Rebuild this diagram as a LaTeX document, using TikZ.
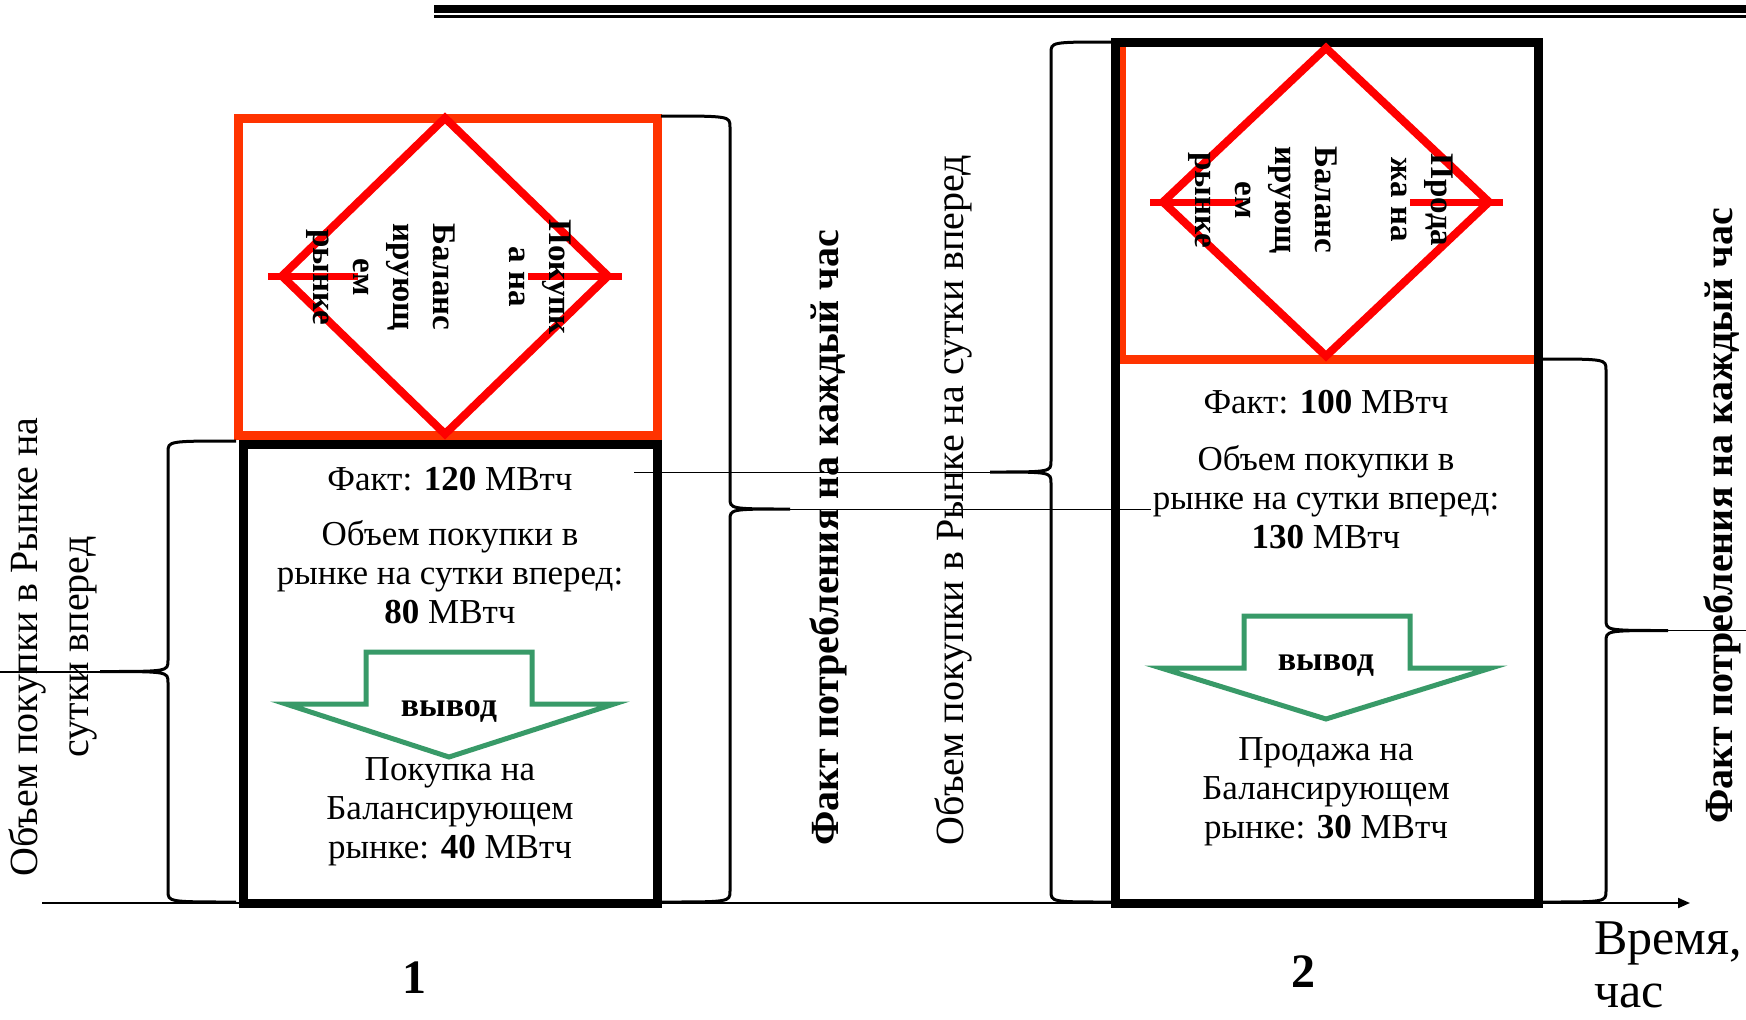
\documentclass[tikz,border=0pt]{standalone}
\usepackage{fontspec}
\setmainfont{Liberation Serif}
\usetikzlibrary{arrows.meta}
\definecolor{boxred}{RGB}{255,51,0}
\definecolor{dred}{RGB}{255,0,0}
\definecolor{agreen}{RGB}{56,154,104}
\tikzset{
  redbox/.style={draw=boxred, line width=4.5pt},
  blkbox/.style={draw=black, line width=4.5pt},
  diam/.style={draw=dred, line width=4pt, line join=miter},
  harrow/.style={draw=dred, line width=3.5pt},
  garrow/.style={draw=agreen, line width=2.5pt, line join=miter},
  bracepath/.style={draw=black, line width=1.5pt},
  thinline/.style={draw=black, line width=0.5pt},
  boxtext/.style={font=\fontsize{17.5}{19.5}\selectfont, align=center, inner sep=0pt},
  vyvod/.style={font=\bfseries\fontsize{17}{19}\selectfont, inner sep=0pt},
  dtext/.style={font=\bfseries\fontsize{16.5}{20}\selectfont, align=center, rotate=-90, inner sep=0pt},
  sidelabel/.style={font=\fontsize{20}{25}\selectfont, align=center, rotate=90, inner sep=0pt},
  sideboldlabel/.style={font=\bfseries\fontsize{20}{25}\selectfont, rotate=90, inner sep=0pt},
  numlabel/.style={font=\bfseries\fontsize{24}{28}\selectfont, inner sep=0pt},
  timelabel/.style={font=\fontsize{25}{26.5}\selectfont, align=left, inner sep=0pt, anchor=west}
}
% brace: x0 = end x, xb = body x, xt = tip x, ytop, ybot
\newcommand{\drawbrace}[5]{%
  \pgfmathsetmacro{\bym}{(#4+#5)/2}%
  \draw[bracepath] (#1,#4) .. controls (#2,#4) and (#2,#4) .. (#2,#4+11)
     -- (#2,\bym-11) .. controls (#2,\bym) and (#2,\bym) .. (#3,\bym)
     .. controls (#2,\bym) and (#2,\bym) .. (#2,\bym+11)
     -- (#2,#5-11) .. controls (#2,#5) and (#2,#5) .. (#1,#5);
}
\begin{document}
\begin{tikzpicture}[x=0.5pt,y=-0.5pt]
\useasboundingbox (0,0) rectangle (1746,1019);

% top double rule
\draw[line width=4pt] (434,9) -- (1746,9);
\draw[line width=1.5pt] (434,16.5) -- (1746,16.5);

% time axis
\coordinate (axisL) at (42,903);
\coordinate (axisR) at (1690,903);
\draw[line width=1pt, -{Triangle[length=6pt,width=5pt]}] (axisL) -- (axisR);

% ---------- hour 1 ----------
\draw[redbox] (238,118) rectangle (657,435);
\draw[blkbox] (243,444) rectangle (657,903);
\draw[diam] (445,118) -- (608,276) -- (445,434) -- (282,276) -- cycle;
\draw[harrow] (358,276) -- (268,276);
\draw[harrow] (528,276) -- (622,276);
\draw[garrow] (366,652) -- (532,652) -- (532,704) -- (614,704) -- (449,757) -- (286,704) -- (366,704) -- cycle;

% ---------- hour 2 ----------
\draw[redbox] (1121,42) rectangle (1538,359);
\draw[blkbox] (1115,42) rectangle (1538,903);
\draw[diam] (1326,48) -- (1489,202) -- (1326,356) -- (1163,202) -- cycle;
\draw[harrow] (1243,202) -- (1150,202);
\draw[harrow] (1410,202) -- (1503,202);
\draw[garrow] (1244,616) -- (1410,616) -- (1410,668) -- (1491,668) -- (1326,719) -- (1161,668) -- (1244,668) -- cycle;

% ---------- braces ----------
\drawbrace{236}{168}{100}{441}{902}
\drawbrace{661}{730}{790}{116}{902}
\drawbrace{1111}{1051}{990}{42}{902}
\drawbrace{1542}{1606}{1668}{359}{902}

\coordinate (tipA) at (100,671.5);
\coordinate (endA) at (0,671.5);
\coordinate (tipB) at (790,509);
\coordinate (endB) at (1151,509);
\coordinate (tipC) at (990,472);
\coordinate (endC) at (634,472);
\coordinate (tipD) at (1668,630.5);
\coordinate (endD) at (1746,630.5);
\draw[line width=1pt] (tipA) -- (endA);
\draw[thinline] (tipB) -- (endB);
\draw[thinline] (tipC) -- (endC);
\draw[thinline] (tipD) -- (endD);

% ---------- texts hour 1 ----------
\node[dtext] (d1) at (439,277) {Покупк\\а на\\[18pt]Баланс\\ирующ\\ем\\рынке};
\node[boxtext] (fact1) at (450,479) {Факт: \textbf{120} МВтч};
\node[boxtext] (dam1) at (450,572) {Объем покупки в\\рынке на сутки вперед:\\\textbf{80} МВтч};
\node[vyvod] (v1) at (449,711) {вывод};
\node[boxtext] (res1) at (450,812) {Покупка на\\Балансирующем\\рынке: \textbf{40} МВтч};

% ---------- texts hour 2 ----------
\node[dtext] (d2) at (1321,200) {Прода\\жа на\\[18pt]Баланс\\ирующ\\ем\\рынке};
\node[boxtext] (fact2) at (1326,402) {Факт: \textbf{100} МВтч};
\node[boxtext] (dam2) at (1326,497) {Объем покупки в\\рынке на сутки вперед:\\\textbf{130} МВтч};
\node[vyvod] (v2) at (1326,665) {вывод};
\node[boxtext] (res2) at (1326,792) {Продажа на\\Балансирующем\\рынке: \textbf{30} МВтч};

% ---------- side labels ----------
\node[sidelabel] (lblA) at (53,647) {Объем покупки в Рынке на\\сутки вперед};
\node[sideboldlabel] (lblB) at (828,538) {Факт потребления на каждый час};
\node[sidelabel] (lblC) at (953,500) {Объем покупки в Рынке на сутки вперед};
\node[sideboldlabel] (lblD) at (1722,516) {Факт потребления на каждый час};

% ---------- axis labels ----------
\node[numlabel] (n1) at (414,978) {1};
\node[numlabel] (n2) at (1303,972) {2};
\node[timelabel] (tl) at (1594,965) {Время,\\час};
\end{tikzpicture}
\end{document}
